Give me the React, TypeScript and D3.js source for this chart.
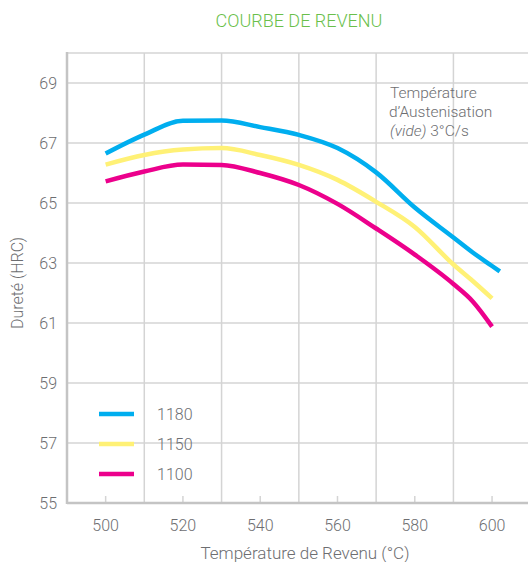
import React from "react";
import * as d3 from "d3";

const temps = [500, 510, 520, 530, 540, 550, 560, 570, 580, 590, 595, 600, 602];
const s1180 = [66.65, 67.28, 67.74, 67.75, 67.53, 67.27, 66.83, 66.02, 64.85, 63.85, 63.35, 62.9, 62.72];
const s1150 = [66.28, 66.6, 66.78, 66.83, 66.6, 66.27, 65.77, 65.04, 64.2, 62.95, 62.4, 61.82, null];
const s1100 = [65.72, 66.05, 66.28, 66.27, 66.0, 65.6, 64.97, 64.15, 63.28, 62.3, 61.72, 60.88, null];
const seriesNames = ["1180", "1150", "1100"];
const seriesColors = ["#00aeef", "#fff176", "#ec008c"];
const xTicks = [500, 520, 540, 560, 580, 600];
const xGrid = [510, 530, 550, 570, 590];
const yTicks = [55, 57, 59, 61, 63, 65, 67, 69];
const yGrid = [57, 59, 61, 63, 65, 67, 69, 70];

const W = 528;
const H = 562;
const textColor = "#6d6e71";
const font = "Roboto, 'Noto Sans', sans-serif";

export default function App() {
  const x = d3.scaleLinear().domain([490, 609.3]).range([67, 528]);
  const y = d3.scaleLinear().domain([55, 70]).range([503, 53]);
  const all = [s1180, s1150, s1100];
  const line = d3
    .line<[number, number | null]>()
    .defined((d) => d[1] != null)
    .x((d) => x(d[0]))
    .y((d) => y(d[1] as number))
    .curve(d3.curveMonotoneX);

  return (
    <svg width={W} height={H} style={{ position: "absolute", left: 0, top: 0 }} fontFamily={font} fontWeight={300}>
      <rect width={W} height={H} fill="#fff" />
      <text x={299} y={27} textAnchor="middle" fill="#6abf4b" fontSize={18}>
        COURBE DE REVENU
      </text>
      {yGrid.map((v) => (
        <line key={"yg" + v} x1={x(490)} x2={W} y1={y(v)} y2={y(v)} stroke="#d4d4d4" strokeWidth={1.5} />
      ))}
      {xGrid.map((v) => (
        <line key={"xg" + v} x1={x(v)} x2={x(v)} y1={y(70)} y2={y(55)} stroke="#d4d4d4" strokeWidth={1.5} />
      ))}
      {xTicks.map((v) => (
        <line key={"xt" + v} x1={x(v)} x2={x(v)} y1={y(55) - 7} y2={y(55)} stroke="#d4d4d4" strokeWidth={1.5} />
      ))}
      <line x1={x(490)} x2={W} y1={y(55)} y2={y(55)} stroke="#c4c4c4" strokeWidth={2.5} />
      <line x1={x(490)} x2={x(490)} y1={y(70) - 1} y2={y(55) + 1} stroke="#c4c4c4" strokeWidth={2.5} />
      {yTicks.map((v) => (
        <text key={"yl" + v} x={57} y={y(v) + 6} textAnchor="end" fill={textColor} fontSize={16}>
          {v}
        </text>
      ))}
      {xTicks.map((v) => (
        <text key={"xl" + v} x={x(v)} y={531} textAnchor="middle" fill={textColor} fontSize={16}>
          {v}
        </text>
      ))}
      <text x={305} y={559} textAnchor="middle" fill={textColor} fontSize={17}>
        Température de Revenu (°C)
      </text>
      <text transform="translate(23,283) rotate(-90)" textAnchor="middle" fill={textColor} fontSize={16}>
        Dureté (HRC)
      </text>
      {all.map((s, i) => (
        <path
          key={"s" + i}
          d={line(temps.map((t, j) => [t, s[j]] as [number, number | null])) || ""}
          fill="none"
          stroke={seriesColors[i]}
          strokeWidth={4.5}
        />
      ))}
      {seriesNames.map((n, i) => (
        <g key={"lg" + n}>
          <line x1={99} x2={134} y1={414 + i * 30} y2={414 + i * 30} stroke={seriesColors[i]} strokeWidth={4.5} />
          <text x={157} y={414 + i * 30 + 6} fill={textColor} fontSize={16}>
            {n}
          </text>
        </g>
      ))}
      <text fill={textColor} fontSize={15.5}>
        <tspan x={390} y={98}>Température</tspan>
        <tspan x={389} y={117}>d’Austenisation</tspan>
        <tspan x={390} y={136}>
          <tspan fontStyle="italic">(vide)</tspan> 3°C/s
        </tspan>
      </text>
    </svg>
  );
}
